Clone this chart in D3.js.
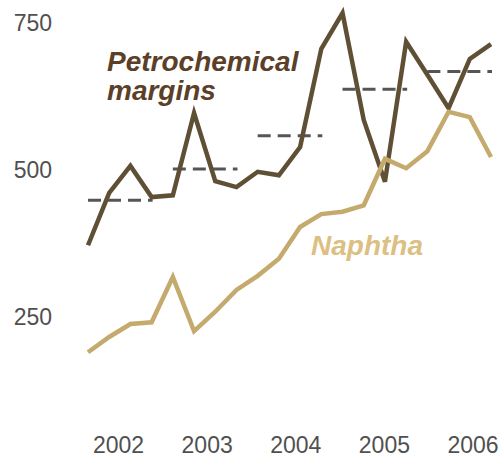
<!DOCTYPE html>
<html>
<head>
<meta charset="utf-8">
<script src="https://cdn.jsdelivr.net/npm/d3@7"></script>
<style>
  html, body { margin: 0; padding: 0; background: #fff; }
  svg { display: block; font-family: "Liberation Sans", Arial, sans-serif; }
</style>
</head>
<body>
<svg id="chart" width="502" height="454"></svg>
<script>
const quarters = ["2002Q1","2002Q2","2002Q3","2002Q4",
                  "2003Q1","2003Q2","2003Q3","2003Q4",
                  "2004Q1","2004Q2","2004Q3","2004Q4",
                  "2005Q1","2005Q2","2005Q3","2005Q4",
                  "2006Q1","2006Q2","2006Q3","2006Q4"];
const years = ["2002","2003","2004","2005","2006"];
const petrochemical = [372,461,507,454, 457,597,481,471, 497,491,539,706, 767,585,480,718, 662,605,689,714];
const naphtha = [190,216,238,241, 318,226,259,296, 320,349,403,425, 429,440,519,503, 532,599,590,522];
const yTicks = [250,500,750];

const svg = d3.select("#chart");

const x = d3.scalePoint().domain(quarters).range([88, 491]);
const xYear = d3.scalePoint().domain(years).range([118, 472.5]);
const y = d3.scaleLinear().domain([250, 750]).range([317, 23]);

// Y axis labels
const yAxis = svg.append("g")
  .attr("transform", "translate(52,0)")
  .call(d3.axisLeft(y).tickValues(yTicks).tickSize(0).tickPadding(0).tickFormat(d3.format("d")));
yAxis.select(".domain").remove();
yAxis.selectAll("text").attr("font-size", 23).attr("fill", "#505050").attr("font-family", "Liberation Sans, Arial, sans-serif");

// X axis labels
const xAxis = svg.append("g")
  .attr("transform", "translate(0,437)")
  .call(d3.axisBottom(xYear).tickSize(0).tickPadding(0));
xAxis.select(".domain").remove();
xAxis.selectAll("text").attr("font-size", 23).attr("fill", "#505050").attr("font-family", "Liberation Sans, Arial, sans-serif");

// Yearly averages of margins (dashed)
const avgs = years.map(yr => {
  const idx = quarters.map((q, i) => q.startsWith(yr) ? i : -1).filter(i => i >= 0);
  return { yr, first: quarters[idx[0]], last: quarters[idx[idx.length - 1]],
           value: d3.mean(idx, i => petrochemical[i]) };
});
svg.append("g").selectAll("line").data(avgs).join("line")
  .attr("x1", d => x(d.first))
  .attr("x2", d => x(d.last) + 1)
  .attr("y1", d => y(d.value))
  .attr("y2", d => y(d.value))
  .attr("stroke", "#555555")
  .attr("stroke-width", 3)
  .attr("stroke-dasharray", "13,7");

const line = d3.line().x((d, i) => x(quarters[i])).y(d => y(d));

svg.append("path").datum(petrochemical)
  .attr("d", line)
  .attr("fill", "none")
  .attr("stroke", "#5f4f35")
  .attr("stroke-width", 4.5)
  .attr("stroke-linejoin", "miter");

svg.append("path").datum(naphtha)
  .attr("d", line)
  .attr("fill", "none")
  .attr("stroke", "#c5aa6d")
  .attr("stroke-width", 4.5)
  .attr("stroke-linejoin", "miter");

// Labels
const lab = svg.append("text")
  .attr("x", 107).attr("y", 71)
  .attr("font-size", 28).attr("font-weight", "bold").attr("font-style", "italic")
  .attr("fill", "#5b3f28");
lab.append("tspan").attr("x", 107).attr("y", 71).text("Petrochemical");
lab.append("tspan").attr("x", 107).attr("y", 100).text("margins");

svg.append("text")
  .attr("x", 311).attr("y", 255)
  .attr("font-size", 28).attr("font-weight", "bold").attr("font-style", "italic")
  .attr("fill", "#dcbf83")
  .text("Naphtha");
</script>
</body>
</html>
